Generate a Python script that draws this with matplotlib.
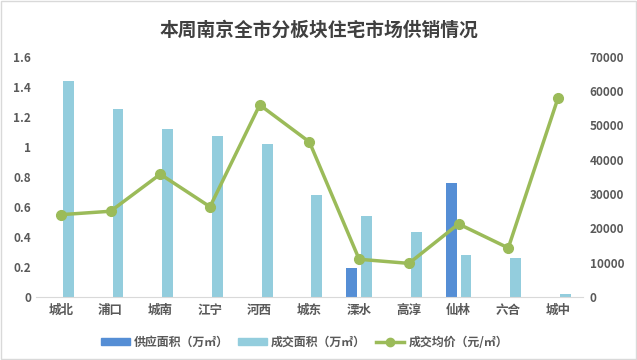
import matplotlib
matplotlib.use("Agg")
import matplotlib.pyplot as plt
import numpy as np
from matplotlib.lines import Line2D
from matplotlib.patches import Patch, Rectangle

plt.rcParams['font.family'] = ['Noto Sans CJK SC', 'DejaVu Sans']

categories = ['城北', '浦口', '城南', '江宁', '河西', '城东', '溧水', '高淳', '仙林', '六合', '城中']
supply_area = [0, 0, 0, 0, 0, 0, 0.19, 0, 0.76, 0, 0]
deal_area = [1.44, 1.25, 1.12, 1.07, 1.02, 0.68, 0.54, 0.43, 0.28, 0.26, 0.02]
avg_price = [24000, 25000, 35800, 26300, 56000, 45200, 11000, 9800, 21300, 14300, 58000]
left_ticks = [0, 0.2, 0.4, 0.6, 0.8, 1, 1.2, 1.4, 1.6]
left_labels = ['0', '0.2', '0.4', '0.6', '0.8', '1', '1.2', '1.4', '1.6']
right_ticks = [0, 10000, 20000, 30000, 40000, 50000, 60000, 70000]

c_supply = '#558ED5'
c_deal = '#93CDDD'
c_price = '#9BBB59'
c_text = '#595959'

fig = plt.figure(figsize=(6.37, 3.6), dpi=100)
fig.patches.append(Rectangle((0.002, 0.002), 0.996, 0.994, transform=fig.transFigure,
                             fill=False, edgecolor='#D9D9D9', linewidth=1))
ax = fig.add_axes([0.0565, 0.175, 0.8585, 0.667])
x = np.arange(len(categories))
w = 0.22
ax.bar(x - 0.15, supply_area, width=w, color=c_supply, zorder=2)
ax.bar(x + 0.15, deal_area, width=w, color=c_deal, zorder=2)
ax.set_xlim(-0.5, len(categories) - 0.5)
ax.set_ylim(0, 1.6)
ax.set_yticks(left_ticks)
ax.set_yticklabels(left_labels)
ax.set_xticks(x)
ax.set_xticklabels(categories)
for s in ['top', 'right', 'left']:
    ax.spines[s].set_visible(False)
ax.spines['bottom'].set_color('#D9D9D9')
ax.tick_params(length=0, colors=c_text, labelsize=8.5)
ax.tick_params(axis='x', pad=5, labelsize=9)
for lab in ax.get_yticklabels() + ax.get_xticklabels():
    lab.set_fontweight('bold')

ax2 = ax.twinx()
ax2.plot(x, avg_price, color=c_price, linewidth=2.5, marker='o', markersize=7, zorder=3)
ax2.set_ylim(0, 70000)
ax2.set_yticks(right_ticks)
for s in ['top', 'right', 'left', 'bottom']:
    ax2.spines[s].set_visible(False)
ax2.tick_params(length=0, colors=c_text, labelsize=8.5, pad=5)
for lab in ax2.get_yticklabels():
    lab.set_fontweight('bold')

fig.text(0.5, 0.917, '本周南京全市分板块住宅市场供销情况', ha='center', va='center',
         fontsize=13.5, fontweight='bold', color='#404040')

handles = [Patch(color=c_supply), Patch(color=c_deal),
           Line2D([0], [0], color=c_price, linewidth=2.5, marker='o', markersize=6)]
labels = ['供应面积（万㎡）', '成交面积（万㎡）', '成交均价（元/㎡）']
leg = fig.legend(handles, labels, loc='center', bbox_to_anchor=(0.478, 0.05), ncol=3,
                 frameon=False, fontsize=8.6, handlelength=2.4, handleheight=0.55,
                 columnspacing=0.8, handletextpad=0.35)
for t in leg.get_texts():
    t.set_color(c_text)
    t.set_fontweight('bold')

fig.savefig('out.png', dpi=100)
